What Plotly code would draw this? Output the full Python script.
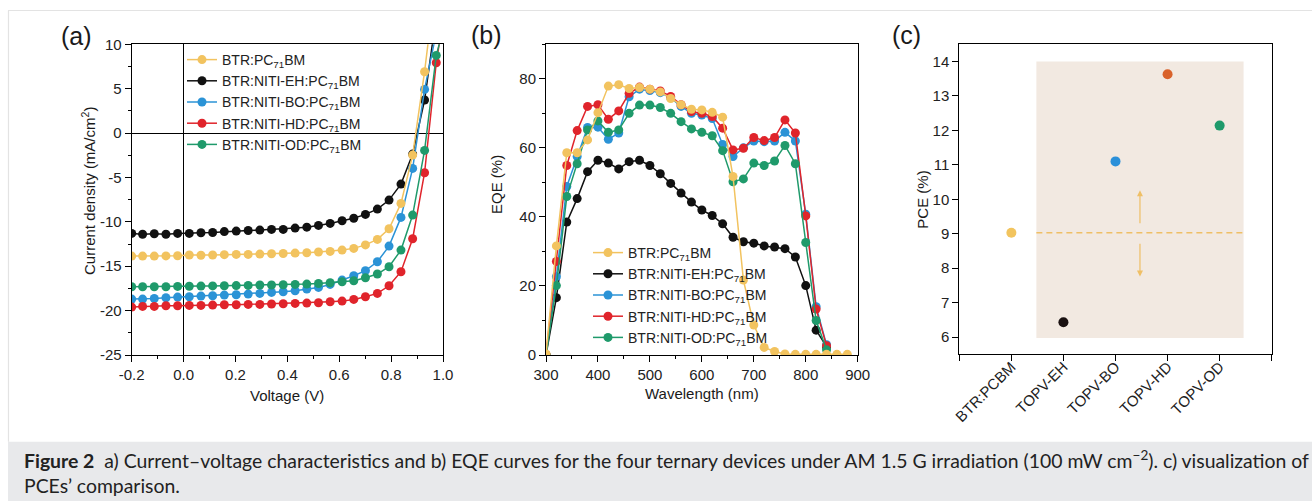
import plotly.graph_objects as go

W_FIG, H_FIG = 1312, 501
FONT = "Liberation Sans, Arial, sans-serif"

# ---------------- data: panel (a) J-V ----------------
voltage = [-0.2, -0.158, -0.113, -0.068, -0.023, 0.022, 0.067, 0.112, 0.157, 0.203,
           0.249, 0.294, 0.339, 0.384, 0.430, 0.475, 0.520, 0.565, 0.611, 0.656,
           0.701, 0.747, 0.792, 0.838, 0.883, 0.929, 0.974, 1.0]
jv_pc71 = [-13.86, -13.86, -13.86, -13.84, -13.82, -13.74, -13.76, -13.74, -13.70, -13.67,
           -13.67, -13.63, -13.60, -13.56, -13.52, -13.48, -13.40, -13.33, -13.18, -12.99,
           -12.60, -11.98, -10.78, -7.92, -2.48, 6.91, 16.5, 24.0]
jv_eh = [-11.30, -11.40, -11.34, -11.40, -11.30, -11.30, -11.23, -11.20, -11.10, -11.04,
         -10.97, -10.93, -10.85, -10.85, -10.70, -10.60, -10.40, -10.18, -9.88, -9.60,
         -9.16, -8.56, -7.55, -5.75, -2.37, 3.72, 13.2, 19.0]
jv_bo = [-18.70, -18.70, -18.63, -18.55, -18.48, -18.44, -18.36, -18.32, -18.25, -18.21,
         -18.14, -18.06, -17.95, -17.87, -17.76, -17.57, -17.39, -17.05, -16.56, -16.07,
         -15.50, -14.50, -12.73, -9.50, -3.98, 4.92, 11.3, 17.0]
jv_hd = [-19.60, -19.53, -19.53, -19.45, -19.45, -19.41, -19.41, -19.38, -19.34, -19.34,
         -19.30, -19.30, -19.26, -19.23, -19.19, -19.15, -19.11, -19.00, -18.93, -18.74,
         -18.44, -18.06, -17.20, -15.62, -11.90, -4.47, 7.92, 12.8]
jv_od = [-17.31, -17.31, -17.31, -17.31, -17.27, -17.25, -17.24, -17.22, -17.20, -17.18,
         -17.16, -17.12, -17.12, -17.09, -17.05, -17.01, -16.94, -16.86, -16.75, -16.64,
         -16.30, -15.88, -15.06, -13.18, -9.24, -1.95, 8.75, 11.6]

# ---------------- data: panel (b) EQE ----------------
wavelength = [300, 320, 340, 360, 380, 400, 420, 440, 460, 480, 500, 520, 540, 560, 580,
              600, 620, 640, 660, 680, 700, 720, 740, 760, 780, 800, 820, 840, 860, 880]
eqe_pc71 = [0.3, 31.6, 58.6, 58.6, 62.3, 70.2, 77.9, 78.3, 77.2, 77.5, 77.0, 76.2, 74.3, 72.5, 71.2,
            71.0, 70.3, 68.9, 51.7, 21.7, 8.7, 2.2, 1.0, 0.3, 0.2, 0.2, 0.2, 0.2, 0.2, 0.2]
eqe_eh = [0.0, 16.6, 38.5, 45.3, 53.1, 56.4, 55.6, 53.9, 56.0, 56.4, 54.9, 52.5, 49.7, 46.9, 44.3,
          42.0, 40.4, 38.0, 34.1, 32.8, 32.4, 31.6, 31.3, 30.8, 28.4, 20.1, 7.2, 2.4, None, None]
eqe_bo = [0.0, 22.7, 48.8, 57.5, 65.9, 66.0, 62.5, 64.3, 74.8, 77.0, 76.6, 76.0, 74.5, 72.0, 70.0,
          69.5, 68.5, 61.0, 57.5, 60.0, 62.0, 61.8, 62.0, 64.5, 62.0, 40.8, 14.0, 3.0, None, None]
eqe_hd = [0.0, 27.1, 54.9, 65.0, 72.0, 72.5, 68.3, 70.7, 75.8, 77.6, 77.0, 76.5, 74.9, 72.5, 70.5,
          70.0, 69.1, 65.7, 59.4, 59.9, 63.0, 62.1, 63.0, 68.1, 64.3, 40.3, 13.3, 2.7, None, None]
eqe_od = [0.0, 20.1, 45.9, 55.4, 65.2, 67.8, 64.5, 65.2, 70.0, 72.4, 72.4, 71.7, 70.0, 67.6, 65.5,
          64.5, 63.5, 59.2, 50.2, 51.0, 55.6, 54.9, 56.2, 60.7, 55.4, 32.6, 10.0, 1.5, None, None]

# ---------------- data: panel (c) PCE ----------------
devices = ["BTR:PCBM", "TOPV-EH", "TOPV-BO", "TOPV-HD", "TOPV-OD"]
device_pos = [0, 1, 2, 3, 4]
pce = [9.03, 6.43, 11.10, 13.63, 12.14]
pce_colors = ["#f2c45e", "#1a1111", "#2b90d9", "#d9622b", "#1f9a6b"]
reference_pce = 9.03
shade_x = [0.48, 4.46]
shade_y = [5.97, 14.0]
arrow_x = 2.47
arrow_up = [9.26, 10.26]
arrow_down = [8.75, 7.76]

# tick labels
a_xticks = [-0.2, 0.0, 0.2, 0.4, 0.6, 0.8, 1.0]
a_xtext = ["-0.2", "0.0", "0.2", "0.4", "0.6", "0.8", "1.0"]
a_yticks = [-25, -20, -15, -10, -5, 0, 5, 10]
a_ytext = ["-25", "-20", "-15", "-10", "-5", "0", "5", "10"]
b_xticks = [300, 400, 500, 600, 700, 800, 900]
b_yticks = [0, 20, 40, 60, 80]
c_yticks = [6, 7, 8, 9, 10, 11, 12, 13, 14]

names = ["BTR:PC<sub>71</sub>BM", "BTR:NITI-EH:PC<sub>71</sub>BM", "BTR:NITI-BO:PC<sub>71</sub>BM",
         "BTR:NITI-HD:PC<sub>71</sub>BM", "BTR:NITI-OD:PC<sub>71</sub>BM"]
colors = ["#f2c35f", "#111111", "#2b93d6", "#e0242b", "#1f9a6b"]
legend_rank = [1, 2, 3, 4, 5]
draw_order = [1, 2, 3, 4, 0]

fig = go.Figure()

jv = [jv_pc71, jv_eh, jv_bo, jv_hd, jv_od]
eqe = [eqe_pc71, eqe_eh, eqe_bo, eqe_hd, eqe_od]

for i in draw_order:
    fig.add_trace(go.Scatter(
        x=voltage, y=jv[i], mode="lines+markers", name=names[i],
        line=dict(color=colors[i], width=1.5), marker=dict(color=colors[i], size=9),
        xaxis="x", yaxis="y", legend="legend", legendrank=legend_rank[i]))
for i in draw_order:
    fig.add_trace(go.Scatter(
        x=wavelength, y=eqe[i], mode="lines+markers", name=names[i],
        line=dict(color=colors[i], width=1.5), marker=dict(color=colors[i], size=9),
        xaxis="x2", yaxis="y2", legend="legend2", legendrank=legend_rank[i],
        connectgaps=False))

fig.add_trace(go.Scatter(
    x=device_pos, y=pce, mode="markers", showlegend=False,
    marker=dict(color=pce_colors, size=10), xaxis="x3", yaxis="y3"))


def px_x(p):
    return p / W_FIG


def px_y(p):
    return 1 - p / H_FIG


tickfont = dict(family=FONT, size=15, color="#222")
base_axis = dict(showline=True, linecolor="black", linewidth=1, mirror=True,
                 ticks="outside", ticklen=6, tickwidth=1, tickcolor="black",
                 showgrid=False, zeroline=False, tickfont=tickfont, automargin=False)

ydom = [px_y(355), px_y(44.3)]
fig.update_layout(
    width=W_FIG, height=H_FIG, margin=dict(l=0, r=0, t=0, b=0, pad=0, autoexpand=False),
    paper_bgcolor="white", plot_bgcolor="white",
    xaxis=dict(base_axis, domain=[px_x(131.7), px_x(443)], range=[-0.2, 1.0],
               tickvals=a_xticks, ticktext=a_xtext,
               minor=dict(dtick=0.1, tick0=-0.2, ticklen=3, ticks="outside", tickcolor="black"),
               zeroline=True, zerolinecolor="black", zerolinewidth=1, anchor="y"),
    yaxis=dict(base_axis, domain=ydom, range=[-25, 10], tickvals=a_yticks, ticktext=a_ytext,
               minor=dict(dtick=2.5, tick0=-25, ticklen=3, ticks="outside", tickcolor="black"),
               zeroline=True, zerolinecolor="black", zerolinewidth=1, anchor="x"),
    xaxis2=dict(base_axis, domain=[px_x(546), px_x(857.7)], range=[300, 900],
                tickvals=b_xticks,
                minor=dict(dtick=50, tick0=300, ticklen=3, ticks="outside", tickcolor="black"),
                anchor="y2"),
    yaxis2=dict(base_axis, domain=ydom, range=[0, 90], tickvals=b_yticks,
                minor=dict(dtick=10, tick0=0, ticklen=3, ticks="outside", tickcolor="black"),
                anchor="x2"),
    xaxis3=dict(base_axis, domain=[px_x(959.3), px_x(1271.7)], range=[-1, 5],
                tickvals=[-1] + device_pos + [5], ticktext=[""] + devices + [""],
                tickangle=-45, anchor="y3", ticklabelstandoff=-9),
    yaxis3=dict(base_axis, domain=[px_y(354.3), px_y(44.3)], range=[5.5, 14.5],
                tickvals=c_yticks, anchor="x3"),
    legend=dict(x=px_x(182), y=px_y(44), xanchor="left", yanchor="top",
                bgcolor="rgba(0,0,0,0)", borderwidth=0,
                font=dict(family=FONT, size=14, color="#222")),
    legend2=dict(x=px_x(588), y=px_y(237), xanchor="left", yanchor="top",
                 bgcolor="rgba(0,0,0,0)", borderwidth=0,
                 font=dict(family=FONT, size=14, color="#222")),
)

shapes = [
    # frame and caption band
    dict(type="rect", xref="paper", yref="paper", x0=px_x(8), x1=1, y0=0, y1=px_y(441.7),
         fillcolor="#e8e9eb", line=dict(width=0), layer="below"),
    dict(type="line", xref="paper", yref="paper", x0=px_x(8), x1=1, y0=px_y(10.5), y1=px_y(10.5),
         line=dict(color="#e3e3e3", width=1.2), layer="below"),
    dict(type="line", xref="paper", yref="paper", x0=px_x(8.5), x1=px_x(8.5), y0=px_y(441.7), y1=px_y(10.5),
         line=dict(color="#e3e3e3", width=1.2), layer="below"),
    # panel c shading + reference line
    dict(type="rect", xref="x3", yref="y3", x0=shade_x[0], x1=shade_x[1], y0=shade_y[0], y1=shade_y[1],
         fillcolor="#f2e9e1", line=dict(width=0), layer="below"),
    dict(type="line", xref="x3", yref="y3", x0=shade_x[0], x1=shade_x[1], y0=reference_pce, y1=reference_pce,
         line=dict(color="#efbf66", width=1.5, dash="6px,4px")),
]
fig.update_layout(shapes=shapes)

ann = []
def label(text, x, y, size=15, angle=0, xanchor="center", yanchor="middle", **kw):
    ann.append(dict(text=text, x=px_x(x), y=px_y(y), xref="paper", yref="paper",
                    showarrow=False, textangle=angle, xanchor=xanchor, yanchor=yanchor,
                    font=dict(family=kw.get("family", FONT), size=size, color=kw.get("color", "#1a1a1a"))))

label("(a)", 76, 36, size=25)
label("(b)", 486, 35, size=25)
label("(c)", 906, 35, size=25)
label("Voltage (V)", 287.4, 395)
label("Current density (mA/cm<sup>2</sup>)", 88, 191, angle=-90)
label("Wavelength (nm)", 701.7, 393)
label("EQE (%)", 497, 184, angle=-90)
label("PCE (%)", 921.7, 200, angle=-90)

CAP_FONT = "Lato, Open Sans, sans-serif"
label("<b>Figure 2</b>  a) Current–voltage characteristics and b) EQE curves for the four ternary devices "
      "under AM 1.5 G irradiation (100 mW cm<sup>−2</sup>). c) visualization of",
      22, 459, size=19.4, xanchor="left", family=CAP_FONT, color="#222")
label("PCEs’ comparison.", 22, 485, size=19.4, xanchor="left", family=CAP_FONT, color="#222")

for y0, y1 in (arrow_up, arrow_down):
    ann.append(dict(x=arrow_x, y=y1, ax=arrow_x, ay=y0, xref="x3", yref="y3", axref="x3", ayref="y3",
                    showarrow=True, arrowhead=2, arrowsize=1, arrowwidth=1.2, arrowcolor="#efbf66", text=""))

fig.update_layout(annotations=ann)

fig.write_html("out.html")
